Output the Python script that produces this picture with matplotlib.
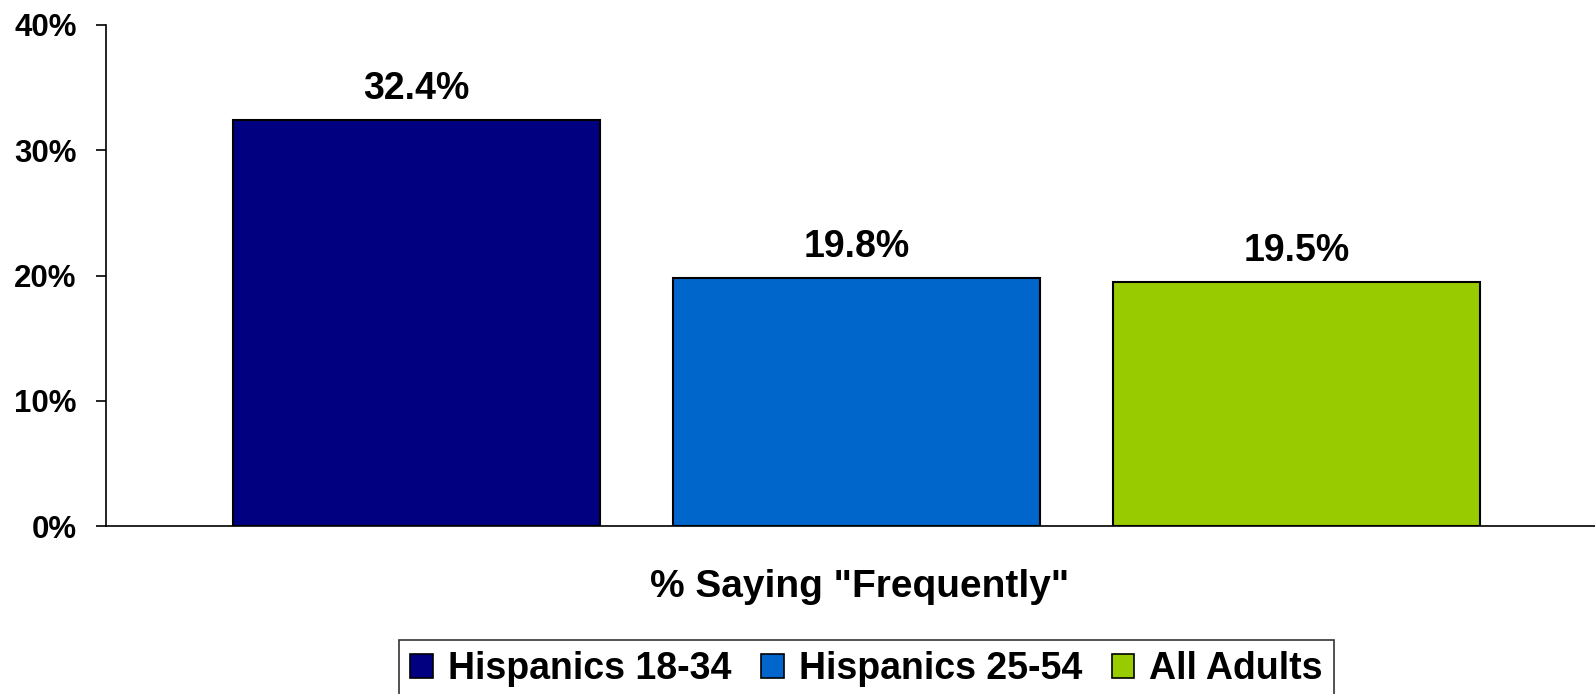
import matplotlib.pyplot as plt
from matplotlib.patches import Patch

# data
series = ['Hispanics 18-34', 'Hispanics 25-54', 'All Adults']
values = [32.4, 19.8, 19.5]
colors = ['#000080', '#0066CC', '#99CC00']
yticks = [0, 10, 20, 30, 40]
xlabel = '% Saying "Frequently"'

plt.rcParams['font.family'] = ['Liberation Sans', 'DejaVu Sans']
plt.rcParams['font.weight'] = 'bold'

fig = plt.figure(figsize=(15.95, 6.94), dpi=100)
ax = fig.add_axes([106 / 1595, 1 - 526 / 694, 1 - 106 / 1595, (526 - 25) / 694])

xpos = list(range(len(values)))
bars = ax.bar(xpos, values, width=0.834, color=colors, edgecolor='black', linewidth=1.5)

for b, v in zip(bars, values):
    ax.annotate(f'{v:.1f}%', (b.get_x() + b.get_width() / 2, v),
                xytext=(0, 15), textcoords='offset points',
                ha='center', va='baseline', fontsize=27, fontweight='bold')

ax.set_xlim(-0.7057, 2.678)
ax.set_ylim(0, 40)
ax.set_yticks(yticks)
ax.set_yticklabels([f'{t}%' for t in yticks], fontsize=22.5, fontweight='bold')
ax.set_xticks([])
ax.tick_params(axis='y', direction='out', length=7, width=1.2, pad=14)
for s in ['top', 'right']:
    ax.spines[s].set_visible(False)
for s in ['left', 'bottom']:
    ax.spines[s].set_linewidth(1.2)

fig.text(860 / 1595, 1 - 597 / 694, xlabel, ha='center', va='baseline',
         fontsize=28, fontweight='bold')

handles = [Patch(facecolor=c, edgecolor='black', linewidth=1.2) for c in colors]
leg = fig.legend(handles, series, loc='upper center', ncol=3,
                 bbox_to_anchor=(866.5 / 1595, 1 - 640 / 694),
                 prop={'size': 27, 'weight': 'bold'},
                 handlelength=0.6, handleheight=0.6, handletextpad=0.4,
                 columnspacing=0.8, borderpad=0.3, borderaxespad=0,
                 frameon=True, fancybox=False)
leg.get_frame().set_edgecolor('black')
leg.get_frame().set_linewidth(1.2)

fig.savefig('out.png', dpi=100)
